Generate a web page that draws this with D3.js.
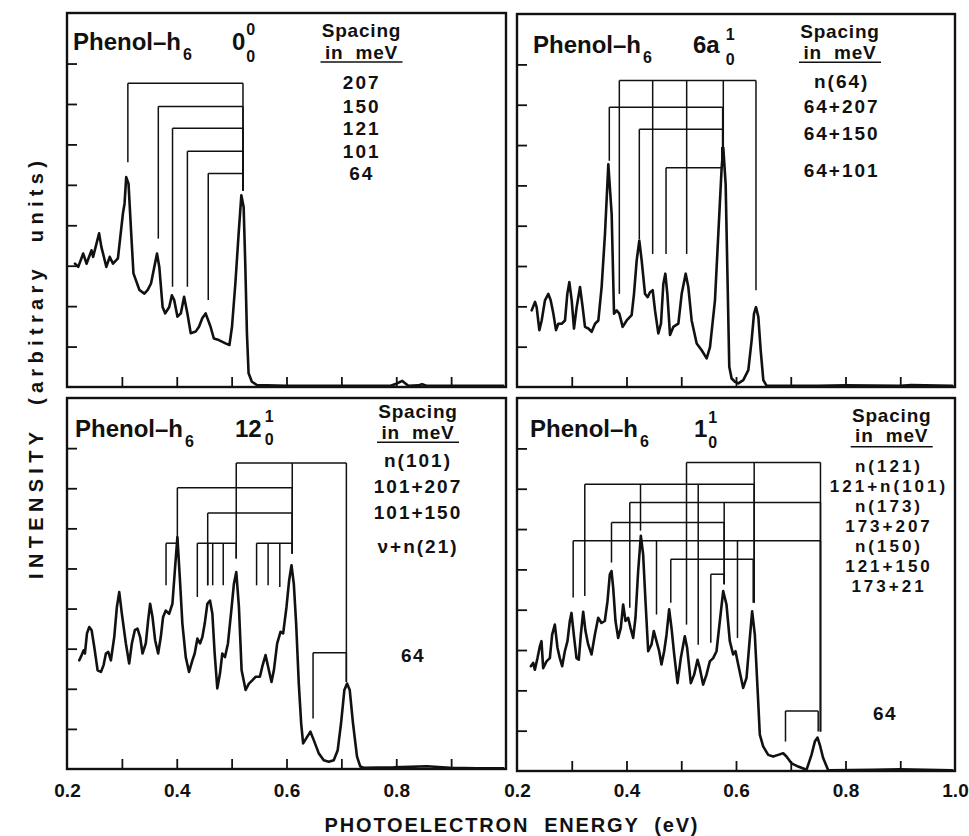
<!DOCTYPE html>
<html><head><meta charset="utf-8">
<script src="https://cdn.jsdelivr.net/npm/d3@7"></script>
<style>
body{margin:0;background:#fff}
svg{display:block}
text{font-family:"Liberation Sans",Arial,Helvetica,sans-serif;font-weight:bold;fill:#111}
</style>
</head><body>
<svg id="chart" width="969" height="836"></svg>
<script>
// ---------------- DATA (energy eV, intensity arb. units) ----------------
const spec00 = [[0.2145,3.05],[0.2205,2.97],[0.2295,3.30],[0.2356,3.05],[0.2446,3.38],[0.2476,3.22],[0.2585,3.80],[0.2627,3.46],[0.2657,3.30],[0.2717,2.97],[0.2778,3.22],[0.2838,3.05],[0.2928,3.18],[0.3019,4.29],[0.3049,4.54],[0.3079,5.19],[0.3121,5.03],[0.3170,3.80],[0.3211,2.81],[0.3320,2.40],[0.3410,2.31],[0.3471,2.40],[0.3531,2.56],[0.3591,2.97],[0.3640,3.30],[0.3682,2.97],[0.3742,1.98],[0.3790,1.82],[0.3863,1.98],[0.3911,2.27],[0.3953,2.15],[0.4013,1.74],[0.4074,1.82],[0.4134,2.23],[0.4194,1.82],[0.4255,1.33],[0.4345,1.37],[0.4405,1.49],[0.4465,1.70],[0.4526,1.82],[0.4616,1.49],[0.4676,1.20],[0.4767,1.16],[0.4888,1.08],[0.4960,1.04],[0.5007,1.49],[0.5068,2.56],[0.5128,3.80],[0.5177,4.74],[0.5219,4.45],[0.5250,2.97],[0.5279,1.33],[0.5309,0.34],[0.5369,0.13],[0.5460,0.05],[0.600,0.03],[0.700,0.03],[0.790,0.03],[0.800,0.08],[0.811,0.15],[0.822,0.03],[0.840,0.04],[0.847,0.07],[0.855,0.03],[0.950,0.03],[0.995,0.03]];

const spec6a = [[0.2268,1.90],[0.2329,2.11],[0.2359,1.98],[0.2408,1.41],[0.2451,1.65],[0.2511,2.15],[0.2572,2.31],[0.2615,2.15],[0.2664,1.82],[0.2712,1.41],[0.2755,1.57],[0.2816,1.57],[0.2877,1.65],[0.2919,2.31],[0.2956,2.60],[0.2999,2.15],[0.3041,1.45],[0.3090,1.98],[0.3151,2.48],[0.3199,1.98],[0.3242,1.49],[0.3303,1.45],[0.3364,1.37],[0.3425,1.57],[0.3486,1.65],[0.3546,2.48],[0.3607,3.80],[0.3668,5.52],[0.3729,4.29],[0.3772,1.82],[0.3820,1.90],[0.3869,1.82],[0.3930,1.49],[0.4003,1.65],[0.4094,1.78],[0.4137,2.31],[0.4186,3.14],[0.4234,3.63],[0.4277,3.14],[0.4338,2.31],[0.4387,2.23],[0.4429,2.35],[0.4478,2.40],[0.4521,1.90],[0.4581,1.33],[0.4630,1.57],[0.4673,2.56],[0.4709,2.81],[0.4746,2.31],[0.4795,1.29],[0.4855,1.49],[0.4947,1.57],[0.5008,2.31],[0.5081,2.81],[0.5129,2.48],[0.5190,1.65],[0.5282,1.08],[0.5373,0.91],[0.5464,0.71],[0.5525,0.99],[0.5616,2.15],[0.5677,3.80],[0.5738,5.44],[0.5768,5.93],[0.5811,5.03],[0.5841,2.97],[0.5877,0.50],[0.5920,0.21],[0.5981,0.13],[0.6042,0.09],[0.6133,0.17],[0.6225,0.42],[0.6286,1.16],[0.6329,1.82],[0.6365,1.98],[0.6408,1.74],[0.6451,0.91],[0.6499,0.17],[0.6560,0.03],[0.750,0.03],[0.800,0.04],[0.900,0.03],[0.920,0.05],[0.995,0.03]];

const spec12 = [[0.2224,2.71],[0.2267,2.84],[0.2303,2.96],[0.2327,2.88],[0.2364,3.38],[0.2406,3.54],[0.2449,3.46],[0.2497,3.04],[0.2558,2.46],[0.2618,2.42],[0.2667,2.59],[0.2709,2.88],[0.2752,2.92],[0.2800,2.71],[0.2861,3.29],[0.2909,4.04],[0.2952,4.41],[0.3000,3.87],[0.3073,3.13],[0.3133,2.63],[0.3182,3.13],[0.3236,3.46],[0.3285,3.50],[0.3333,3.29],[0.3376,2.88],[0.3436,3.13],[0.3479,3.71],[0.3515,4.12],[0.3558,3.79],[0.3606,3.21],[0.3661,2.88],[0.3709,3.29],[0.3751,3.79],[0.3800,3.95],[0.3861,3.87],[0.3921,4.12],[0.3970,5.03],[0.4012,5.78],[0.4055,4.79],[0.4103,3.62],[0.4164,2.79],[0.4224,2.42],[0.4285,2.71],[0.4327,2.88],[0.4376,3.25],[0.4424,3.13],[0.4467,3.29],[0.4509,3.62],[0.4558,4.12],[0.4606,4.20],[0.4649,3.87],[0.4691,2.88],[0.4739,2.01],[0.4788,2.38],[0.4830,2.88],[0.4879,2.79],[0.4933,3.13],[0.4994,3.95],[0.5042,4.62],[0.5085,4.91],[0.5133,4.04],[0.5182,2.46],[0.5255,1.97],[0.5315,2.13],[0.5376,2.21],[0.5436,2.30],[0.5515,2.30],[0.5558,2.55],[0.5618,2.84],[0.5679,2.46],[0.5727,2.17],[0.5770,2.46],[0.5830,3.13],[0.5891,3.42],[0.5939,3.38],[0.6000,4.04],[0.6048,4.70],[0.6091,5.08],[0.6133,4.62],[0.6176,3.62],[0.6224,2.13],[0.6267,1.14],[0.6303,0.64],[0.6376,0.80],[0.6436,0.93],[0.6497,0.72],[0.6588,0.39],[0.6679,0.22],[0.6770,0.18],[0.6861,0.22],[0.6933,0.47],[0.6994,1.14],[0.7055,1.97],[0.7103,2.13],[0.7152,1.97],[0.7212,1.14],[0.7285,0.31],[0.7345,0.06],[0.7406,0.03],[0.7952,0.04],[0.8558,0.07],[0.8982,0.03],[0.9467,0.02],[0.995,0.02]];

const spec1 = [[0.2253,2.60],[0.2295,2.68],[0.2326,2.51],[0.2374,2.80],[0.2417,3.09],[0.2447,3.22],[0.2478,2.55],[0.2539,2.72],[0.2600,2.80],[0.2642,3.38],[0.2691,3.63],[0.2740,3.05],[0.2782,2.80],[0.2825,2.60],[0.2874,2.97],[0.2922,3.22],[0.2965,3.72],[0.2995,3.92],[0.3044,3.30],[0.3087,2.80],[0.3129,2.76],[0.3166,3.38],[0.3209,3.95],[0.3251,3.47],[0.3300,3.14],[0.3361,2.89],[0.3422,3.38],[0.3483,3.80],[0.3543,3.67],[0.3604,3.72],[0.3653,4.21],[0.3696,4.88],[0.3726,4.96],[0.3757,4.54],[0.3799,3.72],[0.3848,3.30],[0.3896,3.55],[0.3939,4.13],[0.3982,3.72],[0.4030,3.80],[0.4073,3.55],[0.4122,3.30],[0.4164,3.80],[0.4213,4.96],[0.4262,5.83],[0.4304,5.37],[0.4347,4.21],[0.4396,2.97],[0.4457,3.14],[0.4499,3.47],[0.4548,3.22],[0.4597,2.97],[0.4639,2.64],[0.4688,2.97],[0.4731,3.38],[0.4779,4.01],[0.4822,3.55],[0.4871,2.89],[0.4932,2.18],[0.4992,2.80],[0.5065,3.34],[0.5108,3.05],[0.5175,2.18],[0.5236,2.39],[0.5297,2.76],[0.5339,2.55],[0.5400,2.14],[0.5461,2.39],[0.5522,2.72],[0.5583,2.80],[0.5644,2.97],[0.5705,3.72],[0.5766,4.46],[0.5826,4.13],[0.5887,3.22],[0.5948,2.89],[0.5991,2.97],[0.6040,2.64],[0.6131,2.06],[0.6192,2.31],[0.6253,3.30],[0.6295,3.96],[0.6344,3.38],[0.6393,2.06],[0.6435,0.90],[0.6496,0.61],[0.6588,0.40],[0.6679,0.36],[0.6770,0.40],[0.6862,0.44],[0.6922,0.36],[0.7014,0.19],[0.7136,0.11],[0.7288,0.03],[0.7379,0.40],[0.7440,0.73],[0.7489,0.83],[0.7531,0.65],[0.7592,0.32],[0.7684,0.02],[0.850,0.03],[0.900,0.04],[0.995,0.02]];

// Assignment brackets: level (intensity units) and legs [energy, lower end]
const brackets00 = [
  {level:7.51, legs:[[0.3109,5.56],[0.5207,4.86]]},
  {level:6.94, legs:[[0.3664,3.67],[0.5207,4.86]]},
  {level:6.40, legs:[[0.3923,2.48],[0.5207,4.86]]},
  {level:5.83, legs:[[0.4194,2.48],[0.5207,4.86]]},
  {level:5.28, legs:[[0.4574,2.15],[0.5207,4.86]]}
];
const brackets6a = [
  {level:7.60, legs:[[0.3869,2.31],[0.4478,3.30],[0.5099,3.30],[0.5768,5.95],[0.6365,2.40]]},
  {level:6.94, legs:[[0.3686,5.61],[0.5756,5.95]]},
  {level:6.39, legs:[[0.4234,3.67],[0.5756,5.95]]},
  {level:5.44, legs:[[0.4722,3.30],[0.5740,5.95]]}
];
const brackets12 = [
  {level:7.63, legs:[[0.5084,5.25],[0.6105,5.37],[0.7091,2.17]]},
  {level:7.01, legs:[[0.4011,5.78],[0.6105,5.37]]},
  {level:6.38, legs:[[0.4564,4.58],[0.6105,5.37]]},
  {level:5.63, legs:[[0.3805,4.58],[0.4011,5.78]]},
  {level:5.63, legs:[[0.4375,4.29],[0.4564,4.58],[0.4655,4.58],[0.4847,4.58],[0.5084,5.25]]},
  {level:5.63, legs:[[0.5455,4.58],[0.5665,4.58],[0.5878,4.54],[0.6105,5.37]]},
  {level:2.90, legs:[[0.6484,1.26],[0.7091,2.17]]}
];
const brackets1 = [
  {level:7.65, legs:[[0.5096,3.63],[0.6332,4.17],[0.7543,0.98]]},
  {level:7.11, legs:[[0.3238,4.34],[0.4256,5.96],[0.5310,3.13],[0.6332,4.17]]},
  {level:6.66, legs:[[0.4060,4.05],[0.5784,4.63],[0.7543,0.98]]},
  {level:6.16, legs:[[0.3726,5.17],[0.5784,4.63]]},
  {level:5.71, legs:[[0.3026,4.30],[0.4548,3.88],[0.6027,3.30],[0.7543,0.98]]},
  {level:5.25, legs:[[0.4809,4.17],[0.6314,4.17]]},
  {level:4.88, legs:[[0.5540,3.18],[0.5784,4.63]]},
  {level:1.49, legs:[[0.6904,0.73],[0.7501,0.98]]}
];

// Text content
const speciesName = "Phenol–h";
const speciesSub = "6";
const modes = [
  {base:"0", sup:"0", sub:"0"},
  {base:"6a", sup:"1", sub:"0"},
  {base:"12", sup:"1", sub:"0"},
  {base:"1", sup:"1", sub:"0"}
];
const headerLines = ["Spacing", "in  meV"];
const spacing00 = ["207","150","121","101","64"];
const spacing6a = ["n(64)","64+207","64+150","64+101"];
const spacing12 = ["n(101)","101+207","101+150","ν+n(21)"];
const spacing1 = ["n(121)","121+n(101)","n(173)","173+207","n(150)","121+150","173+21"];
const extra12 = "64";
const extra1 = "64";

const xDomain = [0.2, 1.0];
const yDomain = [0, 9.25];
const xMinorTicks = [0.3,0.4,0.5,0.6,0.7,0.8,0.9];
const yMinorTicks = [1,2,3,4,5,6,7,8];
const xLabelsLeft = [0.2,0.4,0.6,0.8];
const xLabelsRight = [0.2,0.4,0.6,0.8,1.0];
const xTitle = "PHOTOELECTRON  ENERGY  (eV)";
const yTitle = "INTENSITY  (arbitrary  units)";

// ---------------- LAYOUT ----------------
const panels = [
  {x0:67, x1:506, y0:13, y1:387, spec:spec00, br:brackets00, mode:modes[0], list:spacing00,
   tX:73, tY:50, mX:232, mY:50, supY:35, subY:62, gap:1,
   hX:361.5, hY:[36.7,59.3], ulY:62, lX:361.7, lY:[89,112.7,135,157.7,180], lFs:19, lLs:2, labels:null},
  {x0:517, x1:955, y0:14, y1:387, spec:spec6a, br:brackets6a, mode:modes[1], list:spacing6a,
   tX:533, tY:53, mX:693, mY:53, supY:40, subY:65, gap:6,
   hX:840, hY:[38.3,59.3], ulY:62.3, lX:841.7, lY:[88.3,113.3,140,176.7], lFs:19, lLs:2, labels:null},
  {x0:67, x1:506, y0:398, y1:769, spec:spec12, br:brackets12, mode:modes[2], list:spacing12,
   tX:75, tY:436.7, mX:235, mY:436.7, supY:422, subY:445, gap:3,
   hX:418, hY:[418.3,439.3], ulY:442.3, lX:418, lY:[466.7,492.7,519.3,552.7], lFs:19, lLs:2, labels:xLabelsLeft,
   extra:{t:extra12, x:413, y:661.7}},
  {x0:517, x1:955, y0:398, y1:771, spec:spec1, br:brackets1, mode:modes[3], list:spacing1,
   tX:530, tY:436.7, mX:694, mY:436.7, supY:423, subY:448, gap:1,
   hX:891.7, hY:[421.7,441.7], ulY:446.7, lX:889, lY:[471.7,491.7,511.7,531.7,551.7,571.7,591.7], lFs:17, lLs:3, labels:xLabelsRight,
   extra:{t:extra1, x:885, y:720}}
];

const svg = d3.select("#chart");
const defs = svg.append("defs");
const labelBaseline = 797;

panels.forEach((p, i) => {
  const x = d3.scaleLinear().domain(xDomain).range([p.x0, p.x1]);
  const y = d3.scaleLinear().domain(yDomain).range([p.y1, p.y0]);
  const g = svg.append("g");

  defs.append("clipPath").attr("id", "clip" + i)
    .append("rect").attr("x", p.x0).attr("y", p.y0)
    .attr("width", p.x1 - p.x0).attr("height", p.y1 - p.y0);

  // inward ticks
  const gx = g.append("g").attr("transform", `translate(0,${p.y1})`)
    .call(d3.axisBottom(x).tickValues(xMinorTicks).tickSize(-10).tickFormat(""));
  gx.select(".domain").remove();
  gx.selectAll("line").attr("stroke", "#111").attr("stroke-width", 1.8);

  const gy = g.append("g").attr("transform", `translate(${p.x0},0)`)
    .call(d3.axisLeft(y).tickValues(yMinorTicks).tickSize(-10).tickFormat(""));
  gy.select(".domain").remove();
  gy.selectAll("line").attr("stroke", "#111").attr("stroke-width", 1.8);

  // tick labels for bottom panels
  if (p.labels) {
    const gl = g.append("g").attr("transform", `translate(0,${p.y1})`)
      .call(d3.axisBottom(x).tickValues(p.labels).tickSize(0).tickFormat(d3.format(".1f")));
    gl.select(".domain").remove();
    gl.attr("font-family", null).attr("font-size", null);
    gl.selectAll("text").attr("y", labelBaseline - p.y1).attr("dy", 0)
      .style("font-size", "19px").attr("fill", "#111");
  }

  // spectrum
  const line = d3.line().x(d => x(d[0])).y(d => y(d[1])).curve(d3.curveLinear);
  g.append("path").datum(p.spec).attr("d", line)
    .attr("clip-path", `url(#clip${i})`)
    .attr("fill", "none").attr("stroke", "#111").attr("stroke-width", 2.6)
    .attr("stroke-linejoin", "round").attr("stroke-linecap", "round");

  // brackets
  const bg = g.append("g").attr("stroke", "#111").attr("stroke-width", 1.5).attr("fill", "none");
  p.br.forEach(b => {
    const es = b.legs.map(l => l[0]);
    bg.append("line").attr("x1", x(d3.min(es))).attr("x2", x(d3.max(es)))
      .attr("y1", y(b.level)).attr("y2", y(b.level));
    b.legs.forEach(l => {
      bg.append("line").attr("x1", x(l[0])).attr("x2", x(l[0]))
        .attr("y1", y(b.level)).attr("y2", y(l[1]));
    });
  });

  // frame
  g.append("rect").attr("x", p.x0).attr("y", p.y0)
    .attr("width", p.x1 - p.x0).attr("height", p.y1 - p.y0)
    .attr("fill", "none").attr("stroke", "#111").attr("stroke-width", 2.4);

  // title
  const t = g.append("text").attr("x", p.tX).attr("y", p.tY).style("font-size", "24px");
  t.append("tspan").text(speciesName);
  t.append("tspan").attr("dx", 2).attr("dy", 10).style("font-size", "16px").text(speciesSub);

  const mb = g.append("text").attr("x", p.mX).attr("y", p.mY).style("font-size", "24px").text(p.mode.base);
  const sx = p.mX + mb.node().getComputedTextLength() + p.gap;
  g.append("text").attr("x", sx).attr("y", p.supY).style("font-size", "16px").text(p.mode.sup);
  g.append("text").attr("x", sx).attr("y", p.subY).style("font-size", "16px").text(p.mode.sub);

  // header
  headerLines.forEach((h, k) => {
    g.append("text").attr("x", p.hX).attr("y", p.hY[k]).attr("text-anchor", "middle")
      .style("font-size", "19px").style("letter-spacing", "0.8px").style("white-space", "pre").text(h);
  });
  g.append("line").attr("x1", p.hX - 41).attr("x2", p.hX + 41)
    .attr("y1", p.ulY).attr("y2", p.ulY).attr("stroke", "#111").attr("stroke-width", 1.6);

  p.list.forEach((s, k) => {
    g.append("text").attr("x", p.lX).attr("y", p.lY[k]).attr("text-anchor", "middle")
      .style("font-size", p.lFs + "px").style("letter-spacing", p.lLs + "px").text(s);
  });
  if (p.extra) {
    g.append("text").attr("x", p.extra.x).attr("y", p.extra.y).attr("text-anchor", "middle")
      .style("font-size", "19px").style("letter-spacing", "1.5px").text(p.extra.t);
  }
});

// axis titles
svg.append("text").attr("x", 511).attr("y", 831.7).attr("text-anchor", "middle")
  .attr("textLength", 373).attr("lengthAdjust", "spacing")
  .style("font-size", "20px").style("white-space", "pre").text(xTitle);
svg.append("text").attr("transform", "translate(43,370) rotate(-90)").attr("text-anchor", "middle")
  .attr("textLength", 418).attr("lengthAdjust", "spacing")
  .style("font-size", "20px").style("white-space", "pre").text(yTitle);
</script>
</body></html>
